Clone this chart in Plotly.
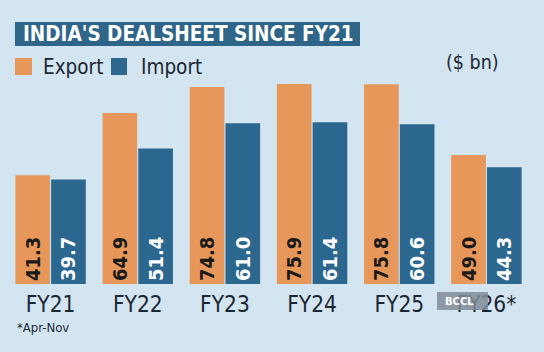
import plotly.graph_objects as go

categories = ["FY21", "FY22", "FY23", "FY24", "FY25", "FY26*"]
export_vals = [41.3, 64.9, 74.8, 75.9, 75.8, 49.0]
import_vals = [39.7, 51.4, 61.0, 61.4, 60.6, 44.3]

W, H = 544, 352
BG = "#d4e5f2"
ORANGE = "#e8975a"
BLUE = "#2c6790"
DARK = "#1b2633"
COND = "DejaVu Sans Condensed, sans-serif"

def px(x):
    return x / W

def py(y):
    return 1 - y / H

fig = go.Figure()
fig.add_trace(go.Bar(
    x=categories, y=export_vals, name="Export",
    marker=dict(color=ORANGE, line=dict(width=0)),
    text=[f"{v:.1f}" for v in export_vals],
    textposition="inside", insidetextanchor="start", textangle=-90,
    textfont=dict(family=COND, size=20, color="#1a1a1a", weight="bold"),
))
fig.add_trace(go.Bar(
    x=categories, y=import_vals, name="Import",
    marker=dict(color=BLUE, line=dict(width=0)),
    text=[f"{v:.1f}" for v in import_vals],
    textposition="inside", insidetextanchor="start", textangle=-90,
    textfont=dict(family=COND, size=20, color="white", weight="bold"),
))

shapes = [
    dict(type="rect", xref="paper", yref="paper", x0=px(15), x1=px(360), y0=py(46), y1=py(22),
         fillcolor="#2f6589", line=dict(width=0), layer="below"),
    dict(type="rect", xref="paper", yref="paper", x0=px(15), x1=px(32), y0=py(75), y1=py(58),
         fillcolor=ORANGE, line=dict(width=0)),
    dict(type="rect", xref="paper", yref="paper", x0=px(111), x1=px(127), y0=py(75), y1=py(58),
         fillcolor=BLUE, line=dict(width=0)),
    dict(type="rect", xref="paper", yref="paper", x0=px(437), x1=px(488), y0=py(310), y1=py(292),
         fillcolor="rgba(128,140,152,0.85)", line=dict(width=0)),
]

annotations = [
    dict(text="INDIA'S DEALSHEET SINCE FY21", x=px(21), y=py(34), xref="paper", yref="paper",
         xanchor="left", yanchor="middle", showarrow=False,
         font=dict(family=COND, size=20.5, color="white", weight="bold")),
    dict(text="Export", x=px(41), y=py(67), xref="paper", yref="paper",
         xanchor="left", yanchor="middle", showarrow=False,
         font=dict(family=COND, size=20.5, color=DARK)),
    dict(text="Import", x=px(139), y=py(67), xref="paper", yref="paper",
         xanchor="left", yanchor="middle", showarrow=False,
         font=dict(family=COND, size=20.5, color=DARK)),
    dict(text="($ bn)", x=px(501), y=py(62), xref="paper", yref="paper",
         xanchor="right", yanchor="middle", showarrow=False,
         font=dict(family=COND, size=19.5, color=DARK)),
    dict(text="*Apr-Nov", x=px(15), y=py(327), xref="paper", yref="paper",
         xanchor="left", yanchor="middle", showarrow=False,
         font=dict(family=COND, size=13, color=DARK)),
    dict(text="BCCL", x=px(459), y=py(301), xref="paper", yref="paper",
         xanchor="center", yanchor="middle", showarrow=False,
         font=dict(family="DejaVu Sans, sans-serif", size=10, color="white", weight="bold")),
]

fig.update_layout(
    width=W, height=H,
    margin=dict(l=0, r=0, t=0, b=0),
    paper_bgcolor=BG, plot_bgcolor=BG,
    barmode="group", bargap=0.18, bargroupgap=0.03,
    showlegend=False,
    shapes=shapes, annotations=annotations,
    xaxis=dict(domain=[px(7), px(530)], showgrid=False, zeroline=False, showline=False,
               ticks="", ticklabelstandoff=4,
               tickfont=dict(family=COND, size=22.5, color=DARK)),
    yaxis=dict(domain=[py(284), py(73)], range=[0, 80.1], visible=False),
)

fig.write_html("out.html")
